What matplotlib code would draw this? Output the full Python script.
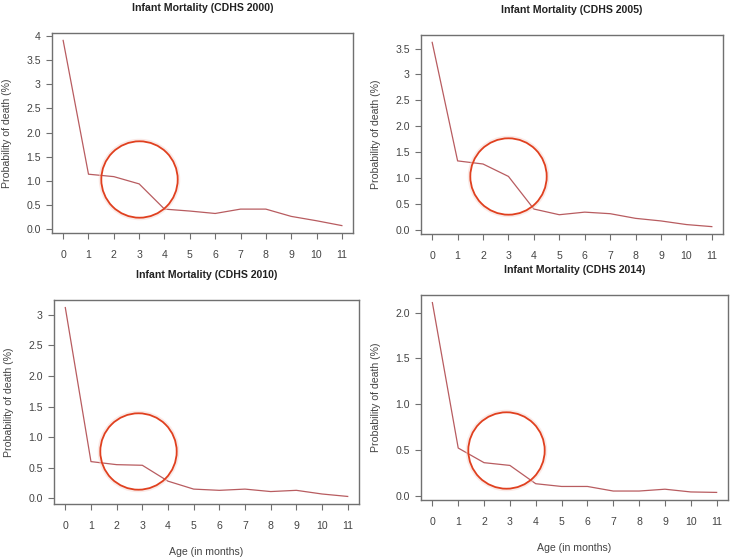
import numpy as np
import matplotlib.pyplot as plt

plt.rcParams['font.family'] = ['Liberation Sans', 'DejaVu Sans']

# age in months
ages = list(range(12))

# probability of death (%)
cdhs_2000 = [3.90, 1.14, 1.09, 0.94, 0.42, 0.38, 0.33, 0.42, 0.42, 0.27, 0.18, 0.08]
cdhs_2005 = [3.62, 1.33, 1.27, 1.03, 0.40, 0.29, 0.34, 0.31, 0.22, 0.17, 0.10, 0.06]
cdhs_2010 = [3.12, 0.60, 0.55, 0.54, 0.28, 0.15, 0.13, 0.15, 0.11, 0.13, 0.07, 0.03]
cdhs_2014 = [2.11, 0.52, 0.36, 0.33, 0.13, 0.10, 0.10, 0.05, 0.05, 0.07, 0.04, 0.035]

titles = ['Infant Mortality (CDHS 2000)', 'Infant Mortality (CDHS 2005)',
          'Infant Mortality (CDHS 2010)', 'Infant Mortality (CDHS 2014)']

ytick_vals = [[0, 0.5, 1, 1.5, 2, 2.5, 3, 3.5, 4],
              [0, 0.5, 1, 1.5, 2, 2.5, 3, 3.5],
              [0, 0.5, 1, 1.5, 2, 2.5, 3],
              [0, 0.5, 1, 1.5, 2]]
ytick_text = [['0.0', '0.5', '1.0', '1.5', '2.0', '2.5', '3', '3.5', '4'],
              ['0.0', '0.5', '1.0', '1.5', '2.0', '2.5', '3', '3.5'],
              ['0.0', '0.5', '1.0', '1.5', '2.0', '2.5', '3'],
              ['0.0', '0.5', '1.0', '1.5', '2.0']]

# highlighted region (circle centres) in data units
circle_x = [3.0, 2.97, 2.83, 2.86]
circle_y = [1.04, 1.03, 0.78, 0.50]

W, H = 731, 559
fig = plt.figure(figsize=(W / 100, H / 100), dpi=100)

# panel boxes in pixels: left, top, right, bottom
boxes = [(52, 33, 353, 233), (421, 35, 723, 234),
         (54, 300, 359, 504), (421, 295, 728, 500)]

series = [cdhs_2000, cdhs_2005, cdhs_2010, cdhs_2014]
box_col = '#707070'
txt_col = '#444444'
fs = 7.6

for i, (l, t, r, b) in enumerate(boxes):
    ax = fig.add_axes([l / W, 1 - b / H, (r - l) / W, (b - t) / H])
    y = series[i]
    ax.plot(ages, y, color='#b85c60', lw=0.9)

    # R style 4% padding
    ax.set_xlim(-0.44, 11.44)
    ymin, ymax = min(y), max(y)
    pad = 0.04 * (ymax - ymin)
    ax.set_ylim(ymin - pad, ymax + pad)

    # circle with soft shadow
    ax.plot(circle_x[i], circle_y[i], 'o', ms=56.5, mfc='none',
            mec='#f6d6d0', mew=2.2, alpha=0.5)
    ax.plot(circle_x[i], circle_y[i], 'o', ms=55, mfc='none',
            mec='#e0401f', mew=1.3)

    ax.set_xticks(ages)
    ax.set_yticks(ytick_vals[i])
    ax.set_yticklabels(ytick_text[i])
    for s in ax.spines.values():
        s.set_color(box_col)
        s.set_linewidth(1.0)
    ax.tick_params(direction='out', length=4, width=0.8, color=box_col,
                   labelsize=fs, labelcolor=txt_col, pad=4)
    ax.tick_params(axis='x', pad=8)

    ax.set_title(titles[i], fontsize=fs, fontweight='bold', color='#222222', pad=16)
    ax.set_ylabel('Probability of death (%)', fontsize=fs, color=txt_col, labelpad=10)
    if i >= 2:
        ax.set_xlabel('Age (in months)', fontsize=fs, color=txt_col, labelpad=12)

fig.savefig('out.png', dpi=100)
